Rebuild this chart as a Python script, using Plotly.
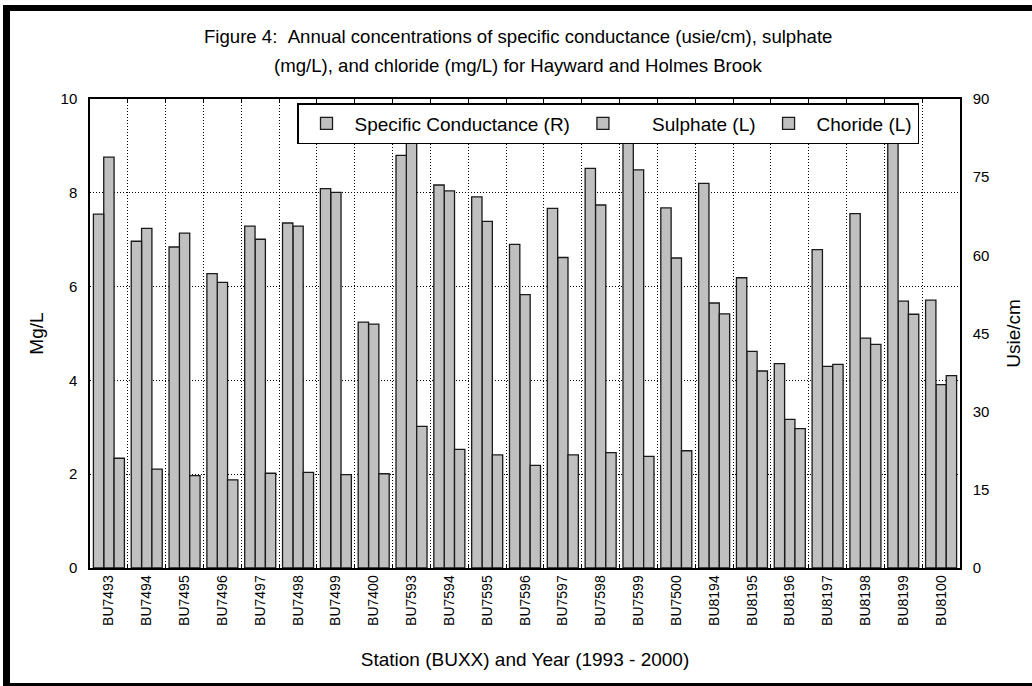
import plotly.graph_objects as go

stations = ["BU7493", "BU7494", "BU7495", "BU7496", "BU7497", "BU7498", "BU7499", "BU7400",
            "BU7593", "BU7594", "BU7595", "BU7596", "BU7597", "BU7598", "BU7599", "BU7500",
            "BU8194", "BU8195", "BU8196", "BU8197", "BU8198", "BU8199", "BU8100"]

# Specific conductance (usie/cm), right axis
conductance = [67.9, 62.7, 61.6, 56.5, 65.6, 66.2, 72.8, 47.2,
               79.2, 73.5, 71.2, 62.1, 69.0, 76.7, 84.0, 69.1,
               73.8, 55.7, 39.2, 61.1, 68.0, 83.0, 51.4]
# Sulphate (mg/L), left axis
sulphate = [8.76, 7.24, 7.14, 6.09, 7.01, 7.29, 8.01, 5.20,
            9.40, 8.04, 7.39, 5.83, 6.62, 7.74, 8.49, 6.61,
            5.65, 4.62, 3.17, 4.30, 4.90, 5.69, 3.91]
# Chloride (mg/L), left axis
chloride = [2.34, 2.11, 1.97, 1.88, 2.02, 2.04, 1.99, 2.01,
            3.02, 2.53, 2.41, 2.19, 2.41, 2.46, 2.38, 2.50,
            5.42, 4.20, 2.97, 4.34, 4.77, 5.41, 4.10]

NB = "\u00a0"
series_names = ["Specific Conductance (R)", NB * 4 + "Sulphate (L)", "Choride (L)"]

W, H = 1032, 686
ML, MR, MT, MB = 90, 72, 99, 118
PW, PH = W - ML - MR, H - MT - MB

def px(x):
    return (x - ML) / PW

def py(y):
    return 1 - (y - MT) / PH

FONT = "Liberation Sans, Arial, sans-serif"
bar_fill = "#c0c0c0"
bar_edge = "#1a1a1a"
DOTS = "1px,2px"

fig = go.Figure()
fig.add_trace(go.Bar(x=stations, y=conductance, name=series_names[0], yaxis="y2",
                     offsetgroup="1",
                     marker=dict(color=bar_fill, line=dict(color=bar_edge, width=1.3))))
fig.add_trace(go.Bar(x=stations, y=sulphate, name=series_names[1], yaxis="y",
                     offsetgroup="2",
                     marker=dict(color=bar_fill, line=dict(color=bar_edge, width=1.3))))
fig.add_trace(go.Bar(x=stations, y=chloride, name=series_names[2], yaxis="y",
                     offsetgroup="3",
                     marker=dict(color=bar_fill, line=dict(color=bar_edge, width=1.3))))

fig.update_layout(
    width=W, height=H,
    margin=dict(l=ML, r=MR, t=MT, b=MB),
    paper_bgcolor="white", plot_bgcolor="white",
    font=dict(family=FONT, size=14, color="black"),
    barmode="group", bargap=0.18, bargroupgap=0,
    showlegend=True,
    legend=dict(orientation="h", x=px(297), y=py(103), xanchor="left", yanchor="top",
                itemwidth=46,
                bgcolor="white", bordercolor="black", borderwidth=1.5,
                font=dict(family=FONT, size=19, color="black")),
    xaxis=dict(type="category", tickson="boundaries", showgrid=True, gridcolor="black",
               griddash=DOTS, gridwidth=1, ticks="inside", ticklen=4, tickcolor="black",
               showline=True, linecolor="black", linewidth=1.5, mirror="ticks",
               tickangle=-90, tickfont=dict(size=14),
               title=dict(text="Station (BUXX) and Year (1993 - 2000)", font=dict(size=19),
                          standoff=28)),
    yaxis=dict(range=[0, 10], dtick=2, showgrid=True, gridcolor="black", griddash=DOTS,
               gridwidth=1, showline=True, linecolor="black", linewidth=1.5, ticks="",
               zeroline=False, tickfont=dict(size=15), ticklabelstandoff=8,
               title=dict(text="Mg/L", font=dict(size=19), standoff=12)),
    yaxis2=dict(range=[0, 90], dtick=15, overlaying="y", side="right", showgrid=False,
                showline=True, linecolor="black", linewidth=1.5, ticks="", zeroline=False,
                tickfont=dict(size=15), ticklabelstandoff=8,
                title=dict(text="Usie/cm", font=dict(size=19), standoff=18)),
    annotations=[
        dict(text="Figure 4: " + NB + "Annual concentrations of specific conductance (usie/cm), sulphate",
             xref="paper", yref="paper", x=px(518), y=py(36.5), xanchor="center",
             yanchor="middle", showarrow=False, font=dict(size=18.6, family=FONT)),
        dict(text="(mg/L), and chloride (mg/L) for Hayward and Holmes Brook",
             xref="paper", yref="paper", x=px(518), y=py(65.5), xanchor="center",
             yanchor="middle", showarrow=False, font=dict(size=18.6, family=FONT)),
    ],
    shapes=[
        dict(type="rect", xref="paper", yref="paper", x0=px(3), x1=px(W + 5), y0=py(11), y1=py(5),
             fillcolor="black", line=dict(width=0), layer="above"),
        dict(type="rect", xref="paper", yref="paper", x0=px(3), x1=px(10), y0=py(H + 5), y1=py(5),
             fillcolor="black", line=dict(width=0), layer="above"),
        dict(type="rect", xref="paper", yref="paper", x0=px(3), x1=px(W + 5), y0=py(H + 5), y1=py(683),
             fillcolor="black", line=dict(width=0), layer="above"),
    ],
)

fig.write_html("out.html")
